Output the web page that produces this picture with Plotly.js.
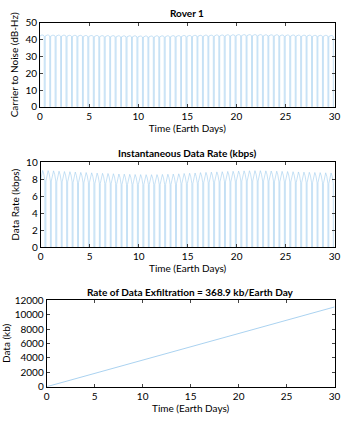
<!DOCTYPE html>
<html><head><meta charset="utf-8">
<script src="https://cdn.plot.ly/plotly-3.0.1.min.js"></script>
<style>html,body{margin:0;padding:0;background:#fff;}#chart{width:350px;height:424px;}</style>
</head><body><div id="chart"></div>
<script>
// Pass centre times (Earth days)
var passCenter = [0.20,0.76,1.31,1.87,2.42,2.98,3.53,4.09,4.64,5.20,5.76,6.31,6.87,7.42,7.98,8.53,9.09,9.64,
  10.20,10.76,11.31,11.87,12.42,12.98,13.53,14.09,14.64,15.20,15.76,16.31,16.87,17.42,17.98,18.53,19.09,19.64,
  20.20,20.76,21.31,21.87,22.42,22.98,23.53,24.09,24.64,25.20,25.76,26.31,26.87,27.42,27.98,28.53,29.09,29.64];
var passHalfWidth = 0.23;
// Peak carrier-to-noise per pass (dB-Hz)
var passCN = [42.8,42.8,42.7,42.7,42.7,42.6,42.6,42.6,42.5,42.5,42.5,42.4,42.4,42.4,42.3,42.3,42.3,42.3,
  42.2,42.2,42.2,42.3,42.3,42.3,42.4,42.4,42.5,42.5,42.6,42.6,42.7,42.7,42.8,42.8,42.9,42.9,
  43.0,43.0,43.0,43.0,43.0,42.9,42.9,42.9,42.8,42.8,42.8,42.7,42.7,42.7,42.6,42.6,42.6,42.5];
// Peak data rate per pass (kbps)
var passRate = [9.05,9.02,9.00,8.96,8.92,8.90,8.86,8.82,8.80,8.77,8.74,8.71,8.69,8.66,8.63,8.61,8.59,8.57,
  8.56,8.55,8.55,8.56,8.58,8.60,8.62,8.65,8.69,8.72,8.75,8.79,8.82,8.85,8.88,8.90,8.93,8.95,
  8.97,9.00,9.01,9.02,9.02,9.00,8.98,8.96,8.94,8.92,8.90,8.87,8.85,8.83,8.81,8.79,8.77,8.75];
// Edge (AOS/LOS) data rate per pass (kbps)
var edgeRate = [7.8,7.8,7.8,7.7,7.7,7.7,7.6,7.6,7.6,7.6,7.5,7.5,7.5,7.5,7.4,7.4,7.4,7.4,
  7.4,7.4,7.4,7.4,7.4,7.4,7.4,7.5,7.5,7.5,7.5,7.6,7.6,7.6,7.7,7.7,7.7,7.7,
  7.8,7.8,7.8,7.8,7.8,7.8,7.8,7.7,7.7,7.7,7.7,7.6,7.6,7.6,7.6,7.6,7.5,7.5];
// Cumulative exfiltrated data
var cumDays = [0,5,10,15,20,25,30];
var cumKb = [0,1845,3690,5535,7380,9220,11067];

var xTicks = [0,5,10,15,20,25,30];
var cnTicks = [0,10,20,30,40,50];
var rateTicks = [0,2,4,6,8,10];
var dataTicks = [0,2000,4000,6000,8000,10000,12000];

var cnX=[0], cnY=[0], rX=[0], rY=[0];
for (var i=0;i<passCenter.length;i++){
  var a=passCenter[i]-passHalfWidth, b=passCenter[i]+passHalfWidth, c=passCenter[i];
  cnX.push(a,a,(a+c)/2,c,(c+b)/2,b,b);
  cnY.push(0,passCN[i]-0.6,passCN[i]-0.1,passCN[i],passCN[i]-0.1,passCN[i]-0.6,0);
  rX.push(a,a,(a+c)/2,c,(c+b)/2,b,b);
  rY.push(0,edgeRate[i],(edgeRate[i]+passRate[i]*2)/3,passRate[i],(edgeRate[i]+passRate[i]*2)/3,edgeRate[i],0);
}
cnX.push(30); cnY.push(0); rX.push(30); rY.push(0);

var lc='rgb(160,205,238)';
var font='Lato, "Open Sans", sans-serif';
var traces=[
  {x:cnX,y:cnY,type:'scatter',mode:'lines',line:{color:lc,width:0.6},xaxis:'x',yaxis:'y',hoverinfo:'skip'},
  {x:rX,y:rY,type:'scatter',mode:'lines',line:{color:lc,width:0.6},xaxis:'x2',yaxis:'y2',hoverinfo:'skip'},
  {x:cumDays,y:cumKb,type:'scatter',mode:'lines',line:{color:lc,width:0.9},xaxis:'x3',yaxis:'y3',hoverinfo:'skip'}
];
function xa(dom,anchor){return {domain:dom,anchor:anchor,range:[0,30],tickvals:xTicks,ticks:'inside',ticklen:3,
  showline:true,linecolor:'#000',linewidth:1,mirror:'ticks',showgrid:false,zeroline:false,
  tickfont:{size:10,color:'#000'},title:{text:'Time (Earth Days)',font:{size:10,color:'#000'},standoff:2}};}
function ya(dom,anchor,range,ticks,title){return {domain:dom,anchor:anchor,range:range,tickvals:ticks,ticktext:ticks.map(String),ticks:'inside',ticklen:3,
  showline:true,linecolor:'#000',linewidth:1,mirror:'ticks',showgrid:false,zeroline:false,
  tickfont:{size:10,color:'#000'},title:{text:title,font:{size:10,color:'#000'},standoff:4}};}
var d1=[0.748,0.946], d2=[0.417,0.617], d3=[0.088,0.292];
var layout={width:350,height:424,margin:{l:0,r:0,t:0,b:0},paper_bgcolor:'#fff',plot_bgcolor:'#fff',
  showlegend:false,font:{family:font,color:'#000'},
  xaxis:xa([0.1143,0.956],'y'), yaxis:ya(d1,'x',[0,50],cnTicks,'Carrier to Noise (dB-Hz)'),
  xaxis2:xa([0.1163,0.956],'y2'), yaxis2:ya(d2,'x2',[0,10],rateTicks,'Data Rate (kbps)'),
  xaxis3:xa([0.1334,0.956],'y3'), yaxis3:ya(d3,'x3',[0,12000],dataTicks,'Data (kb)'),
  annotations:[
    {text:'<b>Rover 1</b>',xref:'paper',yref:'paper',x:0.535,y:1-13/424,xanchor:'center',yanchor:'middle',showarrow:false,font:{size:10}},
    {text:'<b>Instantaneous Data Rate (kbps)</b>',xref:'paper',yref:'paper',x:0.535,y:1-153/424,xanchor:'center',yanchor:'middle',showarrow:false,font:{size:10}},
    {text:'<b>Rate of Data Exfiltration = 368.9 kb/Earth Day</b>',xref:'paper',yref:'paper',x:0.545,y:1-292/424,xanchor:'center',yanchor:'middle',showarrow:false,font:{size:10}}
  ]};
Plotly.newPlot('chart',traces,layout,{staticPlot:true,displayModeBar:false});
</script></body></html>
